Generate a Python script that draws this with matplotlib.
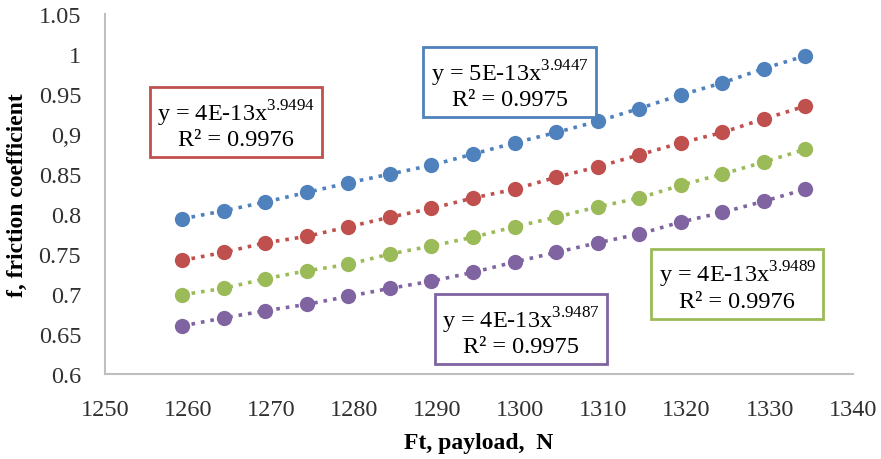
import matplotlib
matplotlib.use("Agg")
import matplotlib.pyplot as plt

plt.rcParams['font.family'] = ['Liberation Serif', 'DejaVu Serif']
plt.rcParams['mathtext.fontset'] = 'custom'
plt.rcParams['mathtext.rm'] = 'Liberation Serif'

# payload Ft, N
ft = [1259.3, 1264.3, 1269.3, 1274.3, 1279.3, 1284.3, 1289.3, 1294.3,
      1299.3, 1304.3, 1309.3, 1314.3, 1319.3, 1324.3, 1329.3, 1334.3]

# friction coefficient, four series
f_blue = [0.794, 0.804, 0.815, 0.827, 0.839, 0.850, 0.861, 0.875,
          0.889, 0.902, 0.916, 0.932, 0.949, 0.964, 0.982, 0.998]
f_red = [0.742, 0.752, 0.764, 0.772, 0.784, 0.796, 0.807, 0.820,
         0.831, 0.846, 0.859, 0.874, 0.889, 0.902, 0.919, 0.935]
f_green = [0.699, 0.707, 0.719, 0.729, 0.737, 0.750, 0.760, 0.771,
           0.784, 0.796, 0.809, 0.820, 0.836, 0.850, 0.865, 0.881]
f_purple = [0.660, 0.670, 0.679, 0.687, 0.697, 0.707, 0.716, 0.727,
            0.740, 0.752, 0.764, 0.775, 0.790, 0.802, 0.816, 0.831]

colors = ['#4F81BD', '#C0504D', '#9BBB59', '#8064A2']
series = [f_blue, f_red, f_green, f_purple]

# trendline labels
eq_text = [r'y = 5E-13x$^{3.9447}$' + '\nR² = 0.9975',
           r'y = 4E-13x$^{3.9494}$' + '\nR² = 0.9976',
           r'y = 4E-13x$^{3.9489}$' + '\nR² = 0.9976',
           r'y = 4E-13x$^{3.9487}$' + '\nR² = 0.9975']
eq_pos = [(1298.7, 0.963), (1265.8, 0.913), (1326.1, 0.711), (1300.1, 0.654)]

yticks = [0.6, 0.65, 0.7, 0.75, 0.8, 0.85, 0.9, 0.95, 1.0, 1.05]
ytick_labels = ['0.6', '0.65', '0.7', '0.75', '0.8', '0.85', '0,9', '0.95', '1', '1.05']
xticks = [1250, 1260, 1270, 1280, 1290, 1300, 1310, 1320, 1330, 1340]

fig = plt.figure(figsize=(8.81, 4.60), dpi=100)
ax = fig.add_axes([0.119, 0.185, 0.849, 0.782])

for vals, c in zip(series, colors):
    ax.plot(ft, vals, linestyle=':', linewidth=2.6, color=c,
            marker='o', markersize=11, markeredgewidth=0)

for txt, (tx, ty), c in zip(eq_text, eq_pos, colors):
    ax.text(tx, ty, txt, ha='center', va='center', multialignment='center',
            fontsize=17.5, linespacing=1.1,
            bbox=dict(boxstyle='square,pad=0.3', facecolor='white',
                      edgecolor=c, linewidth=2))

ax.set_xlim(1250, 1340)
ax.set_ylim(0.6, 1.05)
ax.set_xticks(xticks)
ax.set_yticks(yticks)
ax.set_yticklabels(ytick_labels)
ax.tick_params(axis='both', length=0, labelsize=17.5, colors='#303030')
ax.tick_params(axis='y', pad=17)
ax.tick_params(axis='x', pad=18)

for s in ['top', 'right']:
    ax.spines[s].set_visible(False)
for s in ['left', 'bottom']:
    ax.spines[s].set_color('#BFBFBF')
    ax.spines[s].set_linewidth(1.5)

ax.set_xlabel('Ft, payload,  N', fontsize=17, fontweight='bold', labelpad=9)
ax.set_ylabel('f, friction coefficient', fontsize=17, fontweight='bold', labelpad=8)

fig.savefig('out.png', dpi=100)
